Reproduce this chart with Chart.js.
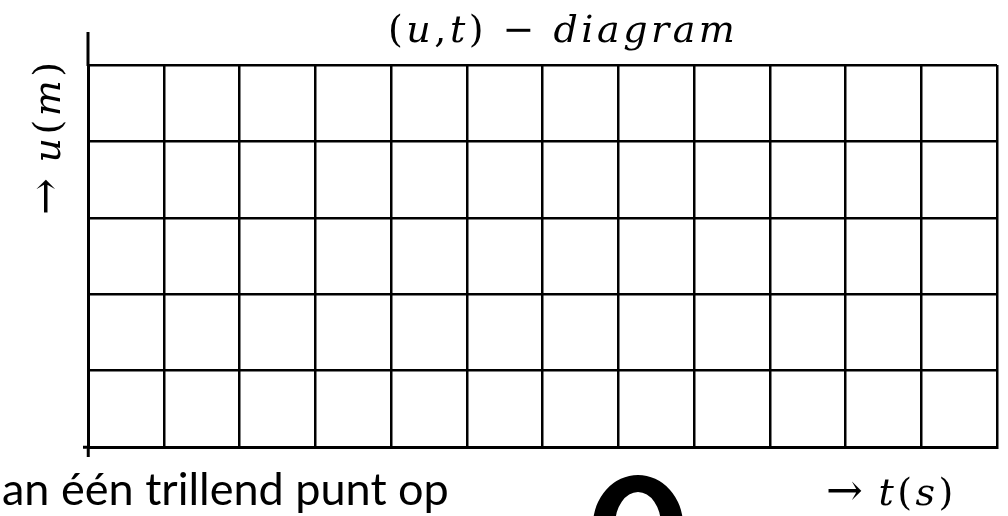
<!DOCTYPE html>
<html>
<head>
<meta charset="utf-8">
<script src="https://cdn.jsdelivr.net/npm/chart.js@4.4.1/dist/chart.umd.min.js"></script>
<style>
html, body { margin: 0; padding: 0; background: #fff; }
#wrap { position: relative; width: 1008px; height: 516px; overflow: hidden; background: #fff; }
#myChart { position: absolute; left: 0; top: 0; }
.math { position: absolute; font-family: "DejaVu Serif", serif; font-size: 38px; line-height: 1; color: #000;
        white-space: nowrap; letter-spacing: 3.5px; }
.math i { font-style: italic; }
.arrow { font-size: 44px; letter-spacing: 0; }
#title { left: 388px; top: 10px; }
#xTitle { left: 826px; top: 468px; }
#yTitle { left: 23px; top: 215px; transform: rotate(-90deg); transform-origin: 0 0; }
#caption { position: absolute; left: 2px; top: 466px; font-family: Lato, sans-serif; font-size: 45px; line-height: 1; color: #000; white-space: nowrap; }
#ring { position: absolute; left: 593px; top: 475px; width: 90px; height: 100px; box-sizing: border-box;
        border: 22px solid #000; border-top-width: 17px; border-radius: 50%; }
</style>
</head>
<body>
<div id="wrap">
  <canvas id="myChart" width="1008" height="516"></canvas>
  <div class="math" id="title">(<i>u</i>,<i>t</i>) − <i>diagram</i></div>
  <div class="math" id="yTitle"><span class="arrow">→</span> <i>u</i>(<i>m</i>)</div>
  <div class="math" id="xTitle"><span class="arrow">→</span> <i>t</i>(<i>s</i>)</div>
  <div id="caption">an één trillend punt op</div>
  <div id="ring"></div>
</div>
<script>
// grid values (empty diagram: only the squares)
const tTicks = [0, 1, 2, 3, 4, 5, 6, 7, 8, 9, 10, 11, 12];
const uTicks = [0, 1, 2, 3, 4, 5];

// y axis line sticks out above the grid
const axisExtension = {
    id: 'axisExtension',
    afterDraw(chart) {
        const ctx = chart.ctx;
        const left = chart.chartArea.left;
        const top = chart.chartArea.top;
        ctx.save();
        ctx.strokeStyle = '#000';
        ctx.lineWidth = 3;
        ctx.beginPath();
        ctx.moveTo(left, top + 1);
        ctx.lineTo(left, top - 33);
        ctx.stroke();
        ctx.restore();
    }
};

function firstTickOnly(c) {
    return c.index === 0 ? '#000' : 'rgba(0,0,0,0)';
}

const myChart = new Chart(document.getElementById('myChart'), {
    type: 'scatter',
    data: { datasets: [] },
    options: {
        responsive: false,
        animation: false,
        layout: { padding: { left: 83, top: 65, right: 11, bottom: 59 } },
        plugins: { legend: { display: false }, tooltip: { enabled: false }, title: { display: false } },
        scales: {
            x: {
                type: 'linear',
                min: tTicks[0],
                max: tTicks[tTicks.length - 1],
                afterBuildTicks: function(scale) { scale.ticks = tTicks.map(v => ({ value: v })); },
                ticks: { display: false },
                grid: { color: '#000', lineWidth: 2.5, tickLength: 10, tickWidth: 3, tickColor: firstTickOnly },
                border: { color: '#000', width: 3 }
            },
            y: {
                type: 'linear',
                min: uTicks[0],
                max: uTicks[uTicks.length - 1],
                afterBuildTicks: function(scale) { scale.ticks = uTicks.map(v => ({ value: v })); },
                ticks: { display: false },
                grid: { color: '#000', lineWidth: 2.5, tickLength: 5, tickWidth: 3, tickColor: firstTickOnly },
                border: { color: '#000', width: 3 }
            }
        }
    },
    plugins: [axisExtension]
});
</script>
</body>
</html>
